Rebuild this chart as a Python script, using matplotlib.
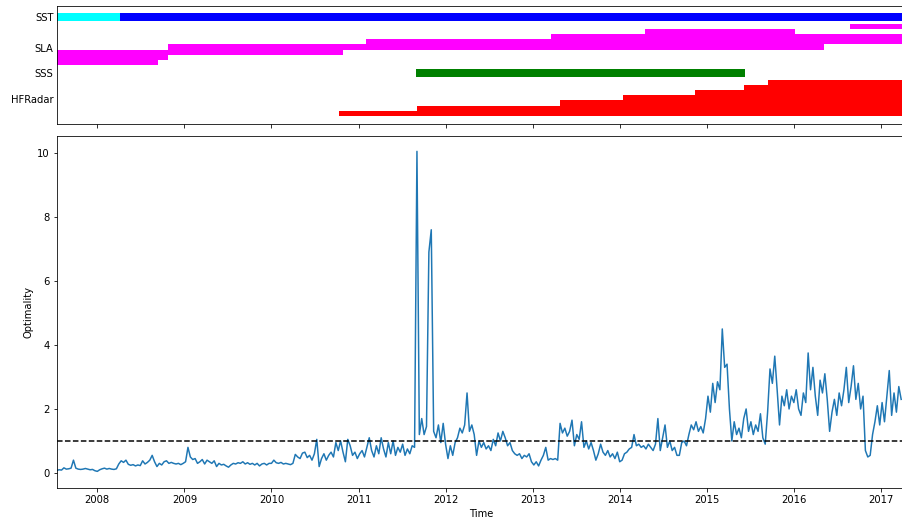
import matplotlib
matplotlib.use("Agg")
import matplotlib.pyplot as plt
import matplotlib.dates as mdates
import pandas as pd

# Observation platforms shown in the availability panel
platforms = ["SST", "SLA", "SSS", "HFRadar"]

period_start = "2007-07-17"
period_end = "2017-04-10"

# SST products (first one replaced by the second)
sst_periods = [("2007-07-17", "2008-04-06"), ("2008-04-06", period_end)]
sst_colors = ["cyan", "blue"]

# Individual altimeter missions, ordered by start date
sla_periods = [
    ("2007-07-17", "2008-09-13"),
    ("2007-07-17", "2008-10-25"),
    ("2007-07-17", "2010-10-28"),
    ("2008-10-25", "2016-05-07"),
    ("2011-02-01", period_end),
    ("2013-03-18", period_end),
    ("2014-04-17", "2016-01-05"),
    ("2016-08-23", period_end),
]

sss_periods = [("2011-08-29", "2015-06-10")]

# HF radar sites, ordered by first data
hfr_periods = [
    ("2010-10-12", period_end),
    ("2011-09-03", period_end),
    ("2013-04-25", period_end),
    ("2014-01-15", period_end),
    ("2014-11-12", period_end),
    ("2015-06-06", period_end),
    ("2015-09-14", period_end),
]

# Optimality, one value every 10 days from 2007-07-16
series_start = "2007-07-16"
optimality = [
    # 2007
    0.08, 0.10, 0.09, 0.16, 0.12, 0.13, 0.15, 0.40, 0.15, 0.12, 0.11, 0.12, 0.14, 0.12, 0.10, 0.11, 0.07,
    # 2008
    0.05, 0.10, 0.13, 0.15, 0.12, 0.14, 0.12, 0.11, 0.13, 0.28, 0.38, 0.33, 0.40, 0.27, 0.24, 0.26, 0.22,
    0.25, 0.23, 0.38, 0.28, 0.33, 0.40, 0.55, 0.35, 0.20, 0.30, 0.25, 0.35, 0.38, 0.30, 0.33, 0.30, 0.28,
    0.30, 0.26, 0.30,
    # 2009
    0.35, 0.80, 0.50, 0.42, 0.45, 0.30, 0.35, 0.42, 0.28, 0.40, 0.35, 0.30, 0.38, 0.20, 0.30, 0.25, 0.27,
    0.22, 0.18, 0.25, 0.30, 0.28, 0.32, 0.30, 0.35, 0.28, 0.32, 0.27, 0.30, 0.25, 0.30, 0.22, 0.28, 0.30,
    0.25, 0.30,
    # 2010
    0.30, 0.40, 0.32, 0.30, 0.33, 0.28, 0.30, 0.28, 0.26, 0.30, 0.58, 0.50, 0.45, 0.62, 0.65, 0.48, 0.55,
    0.40, 0.60, 1.05, 0.20, 0.45, 0.60, 0.40, 0.55, 0.65, 0.50, 0.95, 0.70, 1.00, 0.65, 0.35, 1.05, 0.85,
    0.55, 0.65, 0.45,
    # 2011
    0.60, 0.70, 0.50, 0.80, 1.10, 0.70, 0.50, 0.85, 0.60, 1.10, 0.75, 0.50, 0.95, 0.60, 1.00, 0.55, 0.80,
    0.65, 0.90, 0.55, 0.75, 0.60, 0.85, 0.80, 10.05, 1.20, 1.70, 1.20, 1.45, 6.90, 7.60, 1.30, 1.10, 1.50,
    0.95, 1.55,
    # 2012
    0.90, 0.45, 0.85, 0.55, 0.95, 1.10, 1.40, 1.25, 1.50, 2.50, 1.30, 1.50, 1.20, 0.55, 1.00, 0.80, 0.95,
    0.75, 0.85, 0.70, 1.05, 0.85, 1.25, 1.00, 1.30, 1.10, 0.85, 0.95, 0.70, 0.60, 0.55, 0.60, 0.45, 0.55,
    0.50, 0.60, 0.35,
    # 2013
    0.25, 0.35, 0.22, 0.40, 0.55, 0.80, 0.40, 0.45, 0.42, 0.45, 0.40, 1.55, 1.25, 1.40, 1.15, 1.30, 1.65,
    0.85, 1.20, 1.05, 1.60, 0.80, 1.00, 0.75, 0.95, 0.70, 0.40, 0.60, 0.90, 0.65, 0.55, 0.70, 0.50, 0.60,
    0.45, 0.65, 0.35,
    # 2014
    0.40, 0.60, 0.65, 0.75, 0.80, 1.20, 0.85, 0.90, 0.80, 0.85, 0.75, 0.90, 0.80, 0.70, 0.90, 1.70, 0.70,
    1.10, 1.50, 0.80, 1.00, 0.70, 0.80, 0.55, 0.55, 0.95, 1.00, 0.85, 1.20, 1.50, 1.35, 1.60, 1.30, 1.45,
    1.25, 1.70,
    # 2015
    2.40, 1.90, 2.80, 2.20, 2.85, 2.60, 4.50, 3.30, 3.40, 2.00, 1.00, 1.60, 1.20, 1.40, 1.10, 1.70, 2.00,
    1.30, 1.60, 1.20, 1.50, 1.30, 1.85, 1.10, 0.90, 1.90, 3.25, 2.80, 3.65, 2.60, 1.50, 2.40, 2.10, 2.60,
    2.00, 2.40, 2.20,
    # 2016
    2.60, 2.00, 1.80, 2.50, 2.20, 3.75, 2.60, 3.30, 2.40, 1.80, 2.90, 2.50, 3.10, 2.30, 1.30, 1.90, 2.30,
    1.80, 2.50, 2.10, 2.60, 3.30, 2.20, 2.70, 3.35, 2.30, 2.80, 2.00, 2.40, 0.70, 0.50, 0.55, 1.20, 1.60,
    2.10, 1.50,
    # 2017
    2.20, 1.60, 2.40, 3.20, 1.80, 2.50, 1.90, 2.70, 2.30,
]

W, H = 902, 521
fig = plt.figure(figsize=(W / 72, H / 72), dpi=72)

ax = fig.add_axes([57 / W, 1 - 488 / H, (905 - 57) / W, 352 / H])
ax_obs = fig.add_axes([57 / W, 1 - 124 / H, (905 - 57) / W, 118 / H], sharex=ax)

# --- optimality time series
dates = pd.date_range(series_start, periods=len(optimality), freq="10D")
ax.plot(dates, optimality, color="C0")
ax.axhline(1.0, color="k", linestyle="--")
ax.set_ylim(-0.47, 10.53)
ax.set_ylabel("Optimality")
ax.set_xlabel("Time")
ax.spines["right"].set_visible(False)


def draw_periods(periods, base, colors, height=1.0):
    # Each period gets its own lane, stacked upwards from base
    for k, (start, end) in enumerate(periods):
        t0 = mdates.date2num(pd.Timestamp(start))
        t1 = mdates.date2num(pd.Timestamp(end))
        ax_obs.barh(base - k, t1 - t0, left=t0, height=height,
                    color=colors[k % len(colors)], linewidth=0)


# --- observation availability
for start, end, c in [(s, e, c) for (s, e), c in zip(sst_periods, sst_colors)]:
    t0 = mdates.date2num(pd.Timestamp(start))
    t1 = mdates.date2num(pd.Timestamp(end))
    ax_obs.barh(2.14, t1 - t0, left=t0, height=1.56, color=c, linewidth=0)
draw_periods(sla_periods, 11.0, ["magenta"])
draw_periods(sss_periods, 13.06, ["green"], height=1.56)
draw_periods(hfr_periods, 20.9, ["red"])

ax_obs.set_ylim(23, 0)
ax_obs.set_yticks([2.14, 8.19, 13.06, 18.1])
ax_obs.set_yticklabels(platforms)
ax_obs.tick_params(axis="y", length=0)
ax_obs.tick_params(axis="x", labelbottom=False)
ax_obs.spines["right"].set_visible(False)

ax.xaxis.set_major_locator(mdates.YearLocator())
ax.xaxis.set_major_formatter(mdates.DateFormatter("%Y"))
ax.set_xlim(pd.Timestamp(period_start), pd.Timestamp(period_end))

fig.savefig("out.png", dpi=72)
